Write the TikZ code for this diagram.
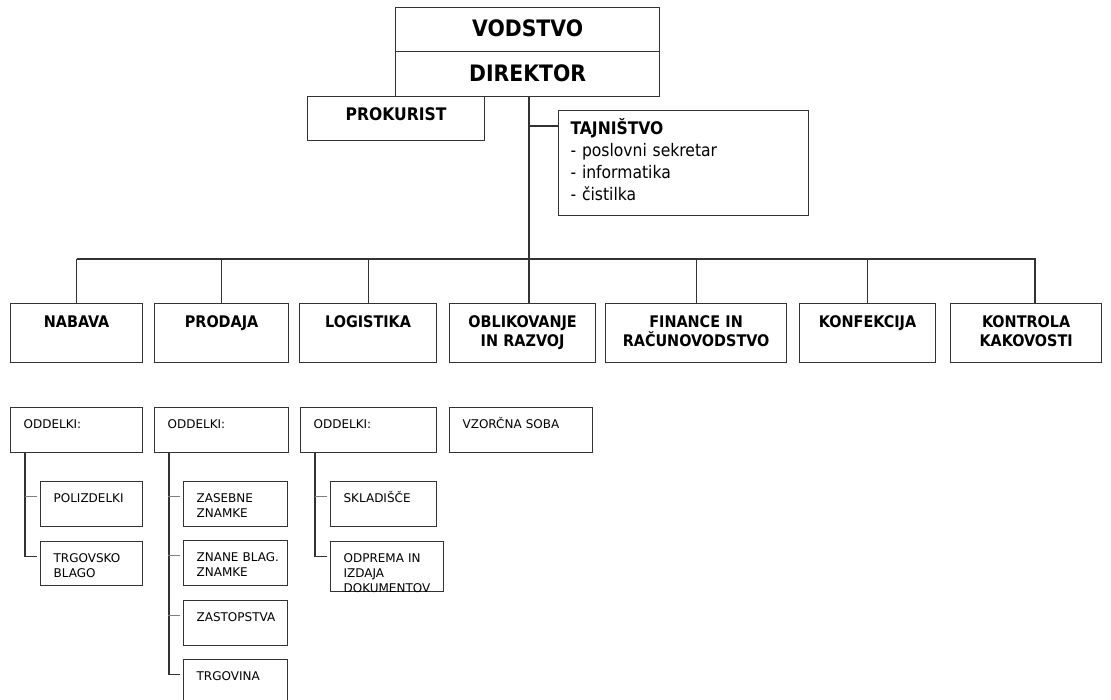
\documentclass[tikz,border=0pt]{standalone}
\usepackage{fontspec}
\setmainfont{DejaVu Sans}
\newfontfamily\condfont{DejaVu Sans Condensed}
\usetikzlibrary{positioning}

\begin{document}
\begin{tikzpicture}[
  x = 0.75pt, y = -0.75pt,
  every node/.style = {draw = black!80, line width = 0.9pt, anchor = north west},
  headbox/.style = {inner sep = 0pt, text width = 198pt, align = center,
                    font = \condfont\bfseries\fontsize{17}{20}\selectfont},
  deptbox/.style = {inner sep = 0pt, text width = #1, align = center,
                    text height = 18pt, text depth = 26.25pt,
                    font = \condfont\bfseries\fontsize{12}{14.25}\selectfont},
  unitbox/.style = {inner xsep = 9.75pt, inner ysep = 0pt, text width = #1, align = left,
                    text height = 15.3pt, text depth = 18.45pt,
                    font = \fontsize{9}{11.25}\selectfont},
  conn/.style = {draw = black!80, line width = 0.9pt},
  stub/.style = {draw = black!50, line width = 0.9pt}
  ]
  \useasboundingbox (0,0) rectangle (1111,700);

  % vodstvo
  \node[headbox, text height = 21.8pt, text depth = 11.2pt] (vodstvo) at (395,7) {VODSTVO};
  \node[headbox, text height = 22.7pt, text depth = 11pt] (direktor) at (395,51) {DIREKTOR};
  \node[inner sep = 0pt, text width = 132.75pt, align = center,
        text height = 18.2pt, text depth = 14.8pt,
        font = \condfont\bfseries\fontsize{13}{16}\selectfont] (prokurist) at (307,96) {PROKURIST};
  \node[inner xsep = 9pt, inner ysep = 0pt, text width = 169.5pt, align = left,
        text height = 18.2pt, text depth = 60.5pt,
        font = \condfont\fontsize{13}{16.5}\selectfont] (tajnistvo) at (558,110)
    {\textbf{TAJNIŠTVO}\\- poslovni sekretar\\- informatika\\- čistilka};

  % oddelki
  \node[deptbox = 99pt]     (nabava)     at (10,303)  {NABAVA};
  \node[deptbox = 100.5pt]  (prodaja)    at (154,303) {PRODAJA};
  \node[deptbox = 102.75pt] (logistika)  at (299,303) {LOGISTIKA};
  \node[deptbox = 109.5pt]  (oblik)      at (449,303) {OBLIKOVANJE\\IN RAZVOJ};
  \node[deptbox = 135.75pt] (finance)    at (605,303) {FINANCE IN\\RAČUNOVODSTVO};
  \node[deptbox = 102pt]    (konfekcija) at (799,303) {KONFEKCIJA};
  \node[deptbox = 113.25pt] (kontrola)   at (950,303) {KONTROLA\\KAKOVOSTI};

  \node[unitbox = 79.5pt]  (odd1)    at (10,407)  {ODDELKI:};
  \node[unitbox = 81pt]    (odd2)    at (154,407) {ODDELKI:};
  \node[unitbox = 82.5pt]  (odd3)    at (300,407) {ODDELKI:};
  \node[unitbox = 87.75pt] (vzorcna) at (449,407) {VZORČNA SOBA};

  \node[unitbox = 57pt] (polizdelki) at (40,481) {POLIZDELKI};
  \node[unitbox = 57pt, text depth = 17.7pt] (trgovsko) at (40,541) {TRGOVSKO\\BLAGO};

  \node[unitbox = 58.5pt] (zasebne)    at (183,481) {ZASEBNE\\ZNAMKE};
  \node[unitbox = 58.5pt] (znane)      at (183,540) {\mbox{ZNANE BLAG.}\\ZNAMKE};
  \node[unitbox = 58.5pt] (zastopstva) at (183,600) {ZASTOPSTVA};
  \node[unitbox = 58.5pt] (trgovina)   at (183,659) {TRGOVINA};

  \node[unitbox = 60pt] (skladisce) at (330,481) {SKLADIŠČE};
  \node[unitbox = 65.25pt, text depth = 22.2pt] (odprema) at (330,541) {ODPREMA IN\\IZDAJA\\DOKUMENTOV};

  % povezave
  \coordinate (bus) at (529,259);
  \coordinate (busR) at (1035,259);
  \draw[conn] (bus |- direktor.south) -- (bus |- oblik.north);
  \draw[conn] ([yshift=-12pt]tajnistvo.north west) -- ([yshift=-12pt]tajnistvo.north west -| bus);
  \draw[conn] (nabava.north |- bus) -- (busR) -- (busR |- kontrola.north);
  \foreach \n in {nabava, prodaja, logistika, finance, konfekcija}
    \draw[conn] (\n.north |- bus) -- (\n.north);

  \draw[conn] ([xshift=11.25pt]odd1.south west) |- ([xshift=-2.25pt,yshift=-11.5pt]trgovsko.north west);
  \draw[conn] ([xshift=11.25pt]odd2.south west) |- ([xshift=-2.25pt,yshift=-11.5pt]trgovina.north west);
  \draw[conn] ([xshift=11.25pt]odd3.south west) |- ([xshift=-2.25pt,yshift=-11.5pt]odprema.north west);
  \foreach \n in {polizdelki, zasebne, znane, zastopstva, skladisce}
    \draw[stub] ([xshift=-2.25pt,yshift=-11.5pt]\n.north west) -- ++(-12,0);
\end{tikzpicture}
\end{document}
